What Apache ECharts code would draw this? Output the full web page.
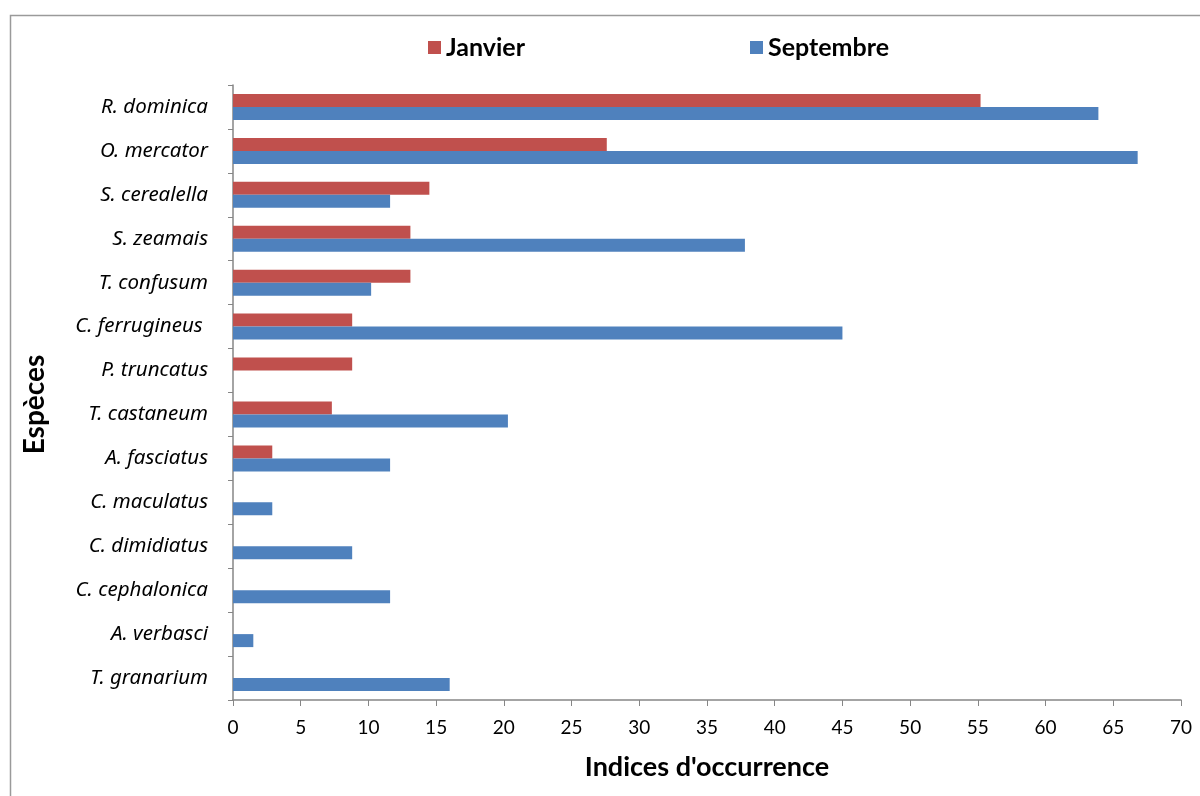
<!DOCTYPE html>
<html>
<head>
<meta charset="utf-8">
<script src="https://cdn.jsdelivr.net/npm/echarts@6/dist/echarts.min.js"></script>
<style>html,body{margin:0;padding:0;background:#fff;}#c{width:1200px;height:796px;}</style>
</head>
<body>
<div id="c"></div>
<script>
const categories = ["R. dominica","O. mercator","S. cerealella","S. zeamais","T. confusum","C. ferrugineus ","P. truncatus","T. castaneum","A. fasciatus","C. maculatus","C. dimidiatus","C. cephalonica","A. verbasci","T. granarium"];
const janvier = [55.2, 27.6, 14.5, 13.1, 13.1, 8.8, 8.8, 7.3, 2.9, 0, 0, 0, 0, 0];
const septembre = [63.9, 66.8, 11.6, 37.8, 10.2, 45.0, 0, 20.3, 11.6, 2.9, 8.8, 11.6, 1.5, 16.0];
const xTicks = {min: 0, max: 70, interval: 5};

const chart = echarts.init(document.getElementById('c'), null, {renderer: 'canvas'});
const FONT = 'Lato';
chart.setOption({
  animation: false,
  backgroundColor: '#fff',
  graphic: [{type: 'rect', shape: {x: 10.5, y: 15.5, width: 1200, height: 800}, style: {fill: 'none', stroke: '#9a9a9a', lineWidth: 1.5}}],
  legend: [
    {data: ['Janvier'], left: 423, top: 30, itemWidth: 13, itemHeight: 13, itemGap: 6, icon: 'rect',
     textStyle: {fontFamily: FONT, fontWeight: 'bold', fontSize: 25, color: '#000'}},
    {data: ['Septembre'], left: 745, top: 30, itemWidth: 13, itemHeight: 13, icon: 'rect',
     textStyle: {fontFamily: FONT, fontWeight: 'bold', fontSize: 25, color: '#000'}}
  ],
  grid: {left: 233, right: 19, top: 85, bottom: 96, containLabel: false},
  xAxis: {
    type: 'value', min: xTicks.min, max: xTicks.max, interval: xTicks.interval,
    name: "Indices d'occurrence", nameLocation: 'middle', nameGap: 54,
    nameTextStyle: {fontFamily: FONT, fontWeight: 'bold', fontSize: 27, color: '#000'},
    axisLine: {show: true, lineStyle: {color: '#868686', width: 1.5}},
    axisTick: {show: true, length: 6, lineStyle: {color: '#868686'}},
    splitLine: {show: false},
    axisLabel: {fontFamily: FONT, fontSize: 19, color: '#000', margin: 18}
  },
  yAxis: {
    type: 'category', data: categories, inverse: true,
    name: 'Espèces', nameLocation: 'middle', nameGap: 184, nameRotate: 90,
    nameTextStyle: {fontFamily: FONT, fontWeight: 'bold', fontSize: 28, color: '#000', padding: [0, 24, 0, 0]},
    axisLine: {show: true, lineStyle: {color: '#868686', width: 1.5}},
    axisTick: {show: true, length: 5, alignWithLabel: false, lineStyle: {color: '#868686'}},
    axisLabel: {fontFamily: 'Noto Sans', fontStyle: 'italic', fontSize: 20.5, color: '#000', margin: 25}
  },
  series: [
    {name: 'Janvier', type: 'bar', data: janvier, barWidth: 13, barGap: '0%', itemStyle: {color: '#C0504D'}},
    {name: 'Septembre', type: 'bar', data: septembre, barWidth: 13, barGap: '0%', itemStyle: {color: '#4F81BD'}}
  ]
});
</script>
</body>
</html>
